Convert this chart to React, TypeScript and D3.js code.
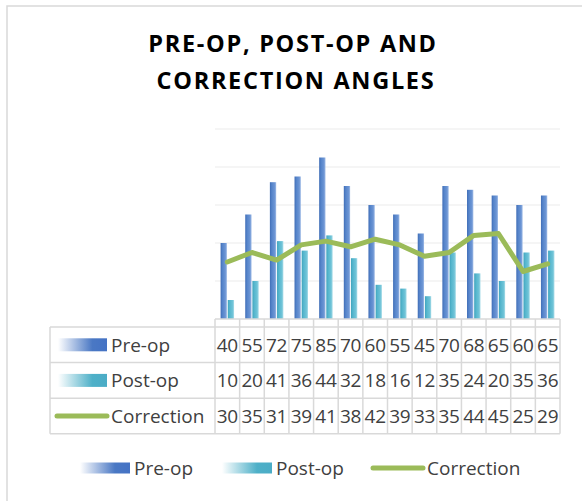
import React, { useEffect, useRef } from "react";
import * as d3 from "d3";

const categories: number[] = [1, 2, 3, 4, 5, 6, 7, 8, 9, 10, 11, 12, 13, 14];
const preOp: number[] = [40, 55, 72, 75, 85, 70, 60, 55, 45, 70, 68, 65, 60, 65];
const postOp: number[] = [10, 20, 41, 36, 44, 32, 18, 16, 12, 35, 24, 20, 35, 36];
const correction: number[] = [30, 35, 31, 39, 41, 38, 42, 39, 33, 35, 44, 45, 25, 29];
const yTicks: number[] = [20, 40, 60, 80, 100];
const seriesNames: string[] = ["Pre-op", "Post-op", "Correction"];

const App: React.FC = () => {
    const svgRef = useRef<SVGSVGElement | null>(null);

    useEffect(() => {
        if (!svgRef.current) return;
        const svg = d3.select(svgRef.current);
        svg.selectAll("*").remove();

        const width = 582;
        const height = 501;
        const plot = { left: 215, right: 560, top: 129, bottom: 319 };
        const tableTop = 327;
        const rowH = 35.6;
        const labelLeft = 50;
        const font = "'Open Sans', sans-serif";
        const gridColor = "#d9d9d9";
        const lineColor = "#9bbb59";

        svg.attr("width", width).attr("height", height);

        const defs = svg.append("defs");
        const addGrad = (id: string, stops: [number, string][]) => {
            const g = defs.append("linearGradient").attr("id", id)
                .attr("x1", "0").attr("x2", "1").attr("y1", "0").attr("y2", "0");
            stops.forEach(([o, c]) => g.append("stop").attr("offset", o).attr("stop-color", c));
        };
        addGrad("preBar", [[0, "#406db6"], [0.3, "#5584ca"], [0.75, "#6c95d4"], [1, "#9fbbe6"]]);
        addGrad("postBar", [[0, "#40a3bd"], [0.3, "#55b6cd"], [0.75, "#6fc3d7"], [1, "#a8dce8"]]);
        addGrad("preKey", [[0, "#ffffff"], [0.7, "#4a78c4"], [1, "#4472c4"]]);
        addGrad("postKey", [[0, "#ffffff"], [0.7, "#4eb0c8"], [1, "#4bacc6"]]);

        // outer chart border
        svg.append("rect")
            .attr("x", 7).attr("y", 6)
            .attr("width", 620).attr("height", 560)
            .attr("fill", "white")
            .attr("stroke", gridColor)
            .attr("stroke-width", 1.5);

        // title
        const title = svg.append("text")
            .attr("text-anchor", "middle")
            .style("font-family", font)
            .attr("font-weight", "bold")
            .attr("font-size", "23.5px")
            .attr("letter-spacing", "1.7px")
            .attr("fill", "#000");
        title.append("tspan").attr("x", 293).attr("y", 52).text("PRE-OP, POST-OP AND");
        title.append("tspan").attr("x", 296).attr("y", 89).text("CORRECTION ANGLES");

        const x = d3.scaleBand<number>()
            .domain(categories)
            .range([plot.left, plot.right])
            .padding(0);

        const y = d3.scaleLinear()
            .domain([0, 100])
            .range([plot.bottom, plot.top]);

        const inner = d3.scaleBand<string>()
            .domain(["pre", "post"])
            .range([0, x.bandwidth()])
            .paddingInner(0.12)
            .paddingOuter(0.78);

        // gridlines
        svg.append("g")
            .selectAll("line")
            .data(yTicks)
            .join("line")
            .attr("x1", plot.left)
            .attr("x2", plot.right)
            .attr("y1", (d) => y(d))
            .attr("y2", (d) => y(d))
            .attr("stroke", "#ebebeb")
            .attr("stroke-width", 1);

        // bars
        svg.append("g")
            .selectAll("rect")
            .data(preOp)
            .join("rect")
            .attr("x", (_d, i) => x(categories[i])! + inner("pre")!)
            .attr("y", (d) => y(d))
            .attr("width", inner.bandwidth())
            .attr("height", (d) => y(0) - y(d))
            .attr("fill", "url(#preBar)");

        svg.append("g")
            .selectAll("rect")
            .data(postOp)
            .join("rect")
            .attr("x", (_d, i) => x(categories[i])! + inner("post")!)
            .attr("y", (d) => y(d))
            .attr("width", inner.bandwidth())
            .attr("height", (d) => y(0) - y(d))
            .attr("fill", "url(#postBar)");

        // correction line
        const line = d3.line<number>()
            .x((_d, i) => x(categories[i])! + x.bandwidth() / 2)
            .y((d) => y(d));

        svg.append("path")
            .datum(correction)
            .attr("d", line)
            .attr("fill", "none")
            .attr("stroke", lineColor)
            .attr("stroke-width", 5)
            .attr("stroke-linejoin", "round")
            .attr("stroke-linecap", "round");

        // data table
        const tableBottom = tableTop + rowH * seriesNames.length;
        const grid = svg.append("g")
            .attr("stroke", gridColor)
            .attr("stroke-width", 1.5);

        grid.append("line")
            .attr("x1", plot.left).attr("x2", plot.right)
            .attr("y1", plot.bottom).attr("y2", plot.bottom);

        d3.range(seriesNames.length + 1).forEach((r) => {
            grid.append("line")
                .attr("x1", labelLeft).attr("x2", plot.right)
                .attr("y1", tableTop + r * rowH).attr("y2", tableTop + r * rowH);
        });

        grid.append("line")
            .attr("x1", labelLeft).attr("x2", labelLeft)
            .attr("y1", tableTop).attr("y2", tableBottom);

        grid.selectAll("line.col")
            .data(categories.concat([-1]))
            .join("line")
            .attr("class", "col")
            .attr("x1", (d) => (d === -1 ? plot.right : x(d)!))
            .attr("x2", (d) => (d === -1 ? plot.right : x(d)!))
            .attr("y1", plot.bottom)
            .attr("y2", tableBottom);

        const seriesValues = [preOp, postOp, correction];
        const keyFill = ["url(#preKey)", "url(#postKey)"];

        seriesNames.forEach((name, r) => {
            const cy = tableTop + r * rowH + rowH / 2;
            if (r < 2) {
                svg.append("rect")
                    .attr("x", 58).attr("y", cy - 6.5)
                    .attr("width", 49).attr("height", 13)
                    .attr("fill", keyFill[r]);
            } else {
                svg.append("line")
                    .attr("x1", 57).attr("x2", 107)
                    .attr("y1", cy).attr("y2", cy)
                    .attr("stroke", lineColor)
                    .attr("stroke-width", 5)
                    .attr("stroke-linecap", "round");
            }
            svg.append("text")
                .attr("x", 111)
                .attr("y", cy + 7)
                .text(name)
                .style("font-family", font)
                .attr("font-size", "19px")
                .attr("fill", "#404040");

            svg.append("g")
                .selectAll("text")
                .data(seriesValues[r])
                .join("text")
                .attr("x", (_d, i) => x(categories[i])! + x.bandwidth() / 2)
                .attr("y", cy + 7)
                .attr("text-anchor", "middle")
                .text((d) => d)
                .style("font-family", font)
                .attr("font-size", "19px")
                .attr("letter-spacing", "-0.3px")
                .attr("fill", "#404040");
        });

        // legend
        const legendY = 468;
        const legendItems = [
            { name: seriesNames[0], x: 80, kind: "bar", fill: "url(#preKey)" },
            { name: seriesNames[1], x: 222, kind: "bar", fill: "url(#postKey)" },
            { name: seriesNames[2], x: 373, kind: "line", fill: lineColor },
        ];
        legendItems.forEach((it) => {
            if (it.kind === "bar") {
                svg.append("rect")
                    .attr("x", it.x).attr("y", legendY - 5.5)
                    .attr("width", 50).attr("height", 11)
                    .attr("fill", it.fill);
            } else {
                svg.append("line")
                    .attr("x1", it.x).attr("x2", it.x + 50)
                    .attr("y1", legendY).attr("y2", legendY)
                    .attr("stroke", it.fill)
                    .attr("stroke-width", 5)
                    .attr("stroke-linecap", "round");
            }
            svg.append("text")
                .attr("x", it.x + 54)
                .attr("y", legendY + 7)
                .text(it.name)
                .style("font-family", font)
                .attr("font-size", "19px")
                .attr("fill", "#404040");
        });
    }, []);

    return (
        <svg
            ref={svgRef}
            style={{ position: "absolute", top: 0, left: 0, display: "block" }}
        ></svg>
    );
};

export default App;
